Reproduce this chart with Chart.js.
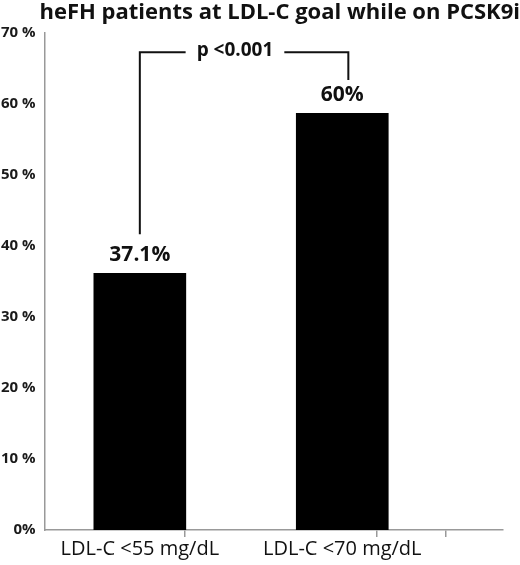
<!DOCTYPE html>
<html>
<head>
<meta charset="utf-8">
<script src="https://cdn.jsdelivr.net/npm/chart.js@4"></script>
<style>
  body { margin: 0; background: #fff; }
  #wrap { width: 520px; height: 565px; }
</style>
</head>
<body>
<div id="wrap"><canvas id="goalChart"></canvas></div>
<script>
const categories = ['LDL-C <55 mg/dL', 'LDL-C <70 mg/dL'];
const barValues = [36.1, 58.6];
const valueLabels = ['37.1%', '60%'];
const yTickLabels = ['0%', '10 %', '20 %', '30 %', '40 %', '50 %', '60 %', '70 %'];
const xTickMarks = [-0.46, 0.44, 1.34];
const pValueText = 'p <0.001';
const bracketX = [0, 1.03];
const bracketTop = 67.2;
const bracketLegs = [41.6, 63.3];
const pLabelX = 0.47;

const FONT = "'Open Sans', 'DejaVu Sans', sans-serif";

// value labels over the bars and the p-value bracket
const annotations = {
  id: 'annotations',
  afterDatasetsDraw(chart) {
    const { ctx, scales: { x, y } } = chart;
    const meta = chart.getDatasetMeta(0);
    ctx.save();
    ctx.fillStyle = '#111';
    ctx.font = `bold 21px ${FONT}`;
    ctx.textAlign = 'center';
    ctx.textBaseline = 'middle';
    meta.data.forEach((bar, i) => {
      ctx.fillText(valueLabels[i], bar.x, bar.y - 18);
    });

    const xl = x.getPixelForValue(bracketX[0]);
    const xr = x.getPixelForValue(bracketX[1]);
    const yt = y.getPixelForValue(bracketTop);
    const px = x.getPixelForValue(pLabelX);
    ctx.font = `bold 19px ${FONT}`;
    const half = ctx.measureText(pValueText).width / 2 + 11;
    ctx.fillText(pValueText, px, yt - 2);

    ctx.strokeStyle = '#111';
    ctx.lineWidth = 2;
    ctx.beginPath();
    ctx.moveTo(xl, y.getPixelForValue(bracketLegs[0]));
    ctx.lineTo(xl, yt);
    ctx.lineTo(px - half, yt);
    ctx.moveTo(px + half, yt);
    ctx.lineTo(xr, yt);
    ctx.lineTo(xr, y.getPixelForValue(bracketLegs[1]));
    ctx.stroke();
    ctx.restore();
  },
};

new Chart(document.getElementById('goalChart'), {
  type: 'bar',
  data: {
    datasets: [{
      data: barValues.map((v, i) => ({ x: i, y: v })),
      backgroundColor: '#000',
      borderWidth: 0,
      barThickness: 92,
    }],
  },
  options: {
    responsive: true,
    maintainAspectRatio: false,
    animation: false,
    layout: { padding: { left: 0, right: 0, top: 0, bottom: 4 } },
    plugins: {
      legend: { display: false },
      tooltip: { enabled: false },
      title: {
        display: true,
        text: 'heFH patients at LDL-C goal while on PCSK9i',
        align: 'end',
        color: '#111',
        font: { family: FONT, size: 22, weight: 'bold', lineHeight: 1.2 },
        padding: { top: 0, bottom: 6 },
      },
    },
    scales: {
      x: {
        type: 'linear',
        min: -0.4706,
        max: 1.794,
        offset: false,
        afterBuildTicks: (axis) => {
          axis.ticks = [...xTickMarks, 0, 1].sort((a, b) => a - b).map((v) => ({ value: v }));
        },
        border: { display: true, color: '#999', width: 1.5 },
        grid: {
          drawOnChartArea: false,
          drawTicks: true,
          tickLength: 7,
          color: (c) => (c.tick && Number.isInteger(c.tick.value) ? 'rgba(0,0,0,0)' : '#999'),
          lineWidth: 1.5,
        },
        ticks: {
          autoSkip: false,
          maxRotation: 0,
          padding: 0,
          color: '#111',
          font: { family: FONT, size: 20, lineHeight: 1.2 },
          callback: (v) => (Number.isInteger(v) ? categories[v] : ''),
        },
      },
      y: {
        min: 0,
        max: 70,
        border: { display: true, color: '#999', width: 1.5 },
        grid: { display: false },
        ticks: {
          stepSize: 10,
          padding: 1,
          color: '#1a1a1a',
          font: { family: FONT, size: 15, weight: 'bold' },
          callback: (v) => yTickLabels[v / 10],
        },
      },
      yr: {
        position: 'right',
        display: true,
        grid: { display: false },
        border: { display: false },
        ticks: { display: false },
        afterFit: (s) => { s.width = 17; },
      },
    },
  },
  plugins: [annotations],
});
</script>
</body>
</html>
